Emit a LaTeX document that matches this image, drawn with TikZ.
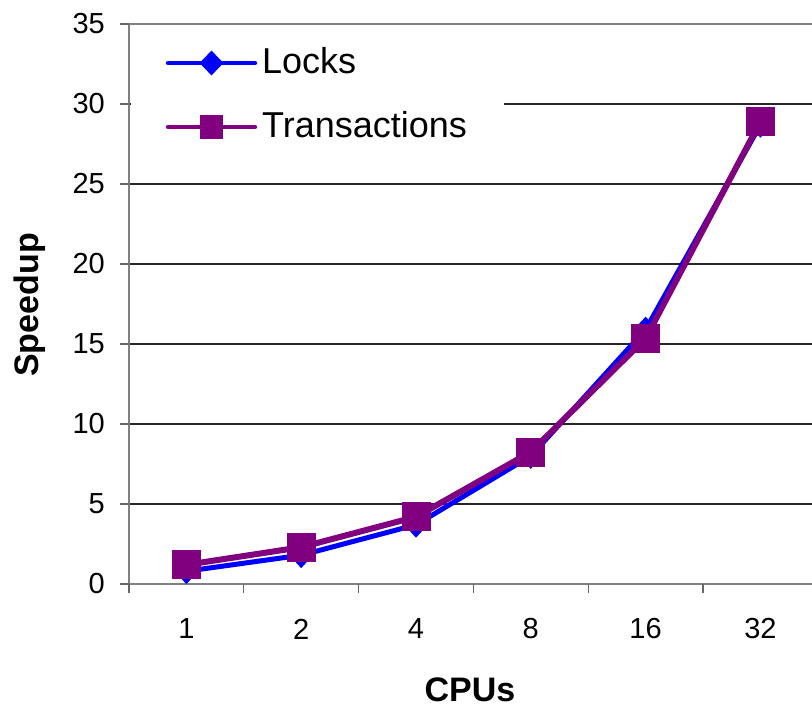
\documentclass[tikz,border=0pt]{standalone}
\usepackage{fontspec}
\setmainfont{Liberation Sans}
\usetikzlibrary{shapes.geometric}
\begin{document}
\begin{tikzpicture}[x=1pt,y=-1pt,
  grid/.style={draw=black!85,line width=1.2pt},
  axisline/.style={draw=black!50,line width=2pt},
  tickmark/.style={draw=black!60,line width=1.3pt},
  ticklab/.style={font=\fontsize{29}{29}\selectfont,inner sep=0pt},
  axtitle/.style={font=\fontsize{34}{34}\selectfont\bfseries,inner sep=0pt},
  legtext/.style={font=\fontsize{36}{36}\selectfont,inner sep=0pt,anchor=west},
  lockline/.style={draw={rgb,255:red,0;green,0;blue,255},line width=5pt,line join=round},
  transline/.style={draw={rgb,255:red,128;green,0;blue,128},line width=6pt,line join=round},
  lockmark/.style={diamond,fill={rgb,255:red,0;green,0;blue,255},inner sep=0pt,minimum width=24pt,minimum height=26pt},
  transmark/.style={rectangle,fill={rgb,255:red,128;green,0;blue,128},inner sep=0pt,minimum size=29pt},
  transmarkleg/.style={rectangle,fill={rgb,255:red,128;green,0;blue,128},inner sep=0pt,minimum size=23pt}
]
\useasboundingbox[fill=white] (0,0) rectangle (812,709);

% gridlines
\foreach \v in {5,10,15,20,25,30}{
  \draw[grid] (129,{584-16*\v}) -- (812,{584-16*\v});
}
\draw[axisline,line width=1.5pt] (129,24) -- (812,24);

% legend box (hides part of the 30 gridline)
\fill[white] (131,27) rectangle (504,162);

% axes
\draw[axisline] (129,24) -- (129,585);
\draw[axisline] (128,584) -- (812,584);

% y ticks and labels
\foreach \v in {0,5,10,15,20,25,30,35}{
  \draw[tickmark] (120,{584-16*\v}) -- (129,{584-16*\v});
  \node[ticklab,anchor=east] (y\v) at (105,{584-16*\v}) {\v};
}

% x ticks
\foreach \k in {0,...,5}{
  \draw[tickmark] ({129+114.8*\k},584) -- ({129+114.8*\k},593);
}
% x labels
\foreach \lab [count=\k from 0] in {1,2,4,8,16,32}{
  \node[ticklab] (x\k) at ({186.4+114.8*\k},629) {\lab};
}

% axis titles
\node[axtitle] (xt) at (470,690) {CPUs};
\node[axtitle,rotate=90] (yt) at (30,305) {Speedup};

% data coordinates
\foreach \v [count=\k from 0] in {0.8,1.8,3.7,8.0,15.9,28.7}{
  \coordinate (L\k) at ({186.4+114.8*\k},{584-16*\v});
}
\foreach \v [count=\k from 0] in {1.2,2.3,4.2,8.25,15.35,28.9}{
  \coordinate (T\k) at ({186.4+114.8*\k},{584-16*\v});
}

% Locks series
\draw[lockline] (L0) -- (L1) -- (L2) -- (L3) -- (L4) -- (L5);
\foreach \k in {0,...,5}{ \node[lockmark] (LM\k) at (L\k) {}; }

% Transactions series
\draw[transline] (T0) -- (T1) -- (T2) -- (T3) -- (T4) -- (T5);
\foreach \k in {0,...,5}{ \node[transmark] (TM\k) at (T\k) {}; }

% legend
\coordinate (la) at (168,63);
\coordinate (lb) at (255,63);
\draw[lockline,line width=4.5pt,line cap=round] (la) -- (lb);
\node[lockmark,minimum height=25pt] (lgL) at (211.5,63) {};
\node[legtext] (lgLt) at (262,61) {Locks};

\coordinate (ta) at (168,127);
\coordinate (tb) at (255,127);
\draw[transline,line width=4.5pt,line cap=round] (ta) -- (tb);
\node[transmarkleg] (lgT) at (211,127) {};
\node[legtext] (lgTt) at (262,125) {Transactions};
\end{tikzpicture}
\end{document}
